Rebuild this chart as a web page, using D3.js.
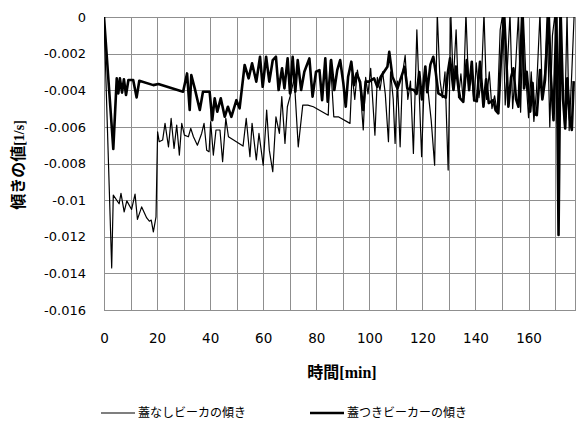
<!DOCTYPE html>
<html>
<head>
<meta charset="utf-8">
<script src="https://d3js.org/d3.v7.min.js"></script>
<style>
  body { margin: 0; background: #fff; }
  svg { display: block; }
</style>
</head>
<body>
<div id="chart"></div>
<script>

// 蓋なしビーカ (thin line): time [min] and slope [1/s]
var openTime = [0, 2.9, 3.5, 5.7, 6.4, 7.6, 8.6, 10.4, 11.7, 12.6, 14.2, 16.1, 17.1, 17.8, 18.6, 19.6,
    20.2, 20.8, 22.1, 23, 24.3, 25.3, 26.4, 27.4, 28.4, 29.3, 30.3, 31.8, 32.7, 33.7, 35.2, 36.8, 37.7,
    38.7, 39.6, 40.2, 41.2, 42.2, 43.7, 44.7, 45.9, 46.9, 52.4, 53.6, 55, 55.8, 57.4, 58.4, 60, 61.3,
    62.3, 63.6, 64.8, 66.1, 67, 68.2, 69.1, 70.1, 71.7, 73.2, 74.9, 76.8, 78.9, 84.5, 85.3, 86.6,
    88.3, 92.7, 93.5, 94.5, 95.5, 96.5, 97.7, 98.6, 99.5, 100.5, 102.1, 103, 104, 105, 106, 107.2,
    108, 109, 109.7, 110.6, 111.6, 112.5, 113.5, 114.5, 115.5, 116.6, 117.9, 118.8, 119.7, 120.8,
    121.8, 123.3, 124.6, 125.6, 126.6, 127.5, 128.5, 129.7, 130.7, 131.6, 132.7, 133.6, 134.5,
    135.4, 136.4, 137.4, 138.4, 139.4, 140.3, 141.3, 142.3, 143.2, 144.2, 145.2, 146.2, 147.2,
    148.2, 149.3, 150.3, 151.2, 152, 153, 154, 155, 156.2, 157, 158, 159, 160, 161, 162, 163,
    164.3, 165.2, 166.2, 167, 168, 169, 170, 170.8, 171.8, 172.8, 173.6, 174.5, 175.3, 176.3, 177.2];
var openValue = [0, -0.0137, -0.00973, -0.0102, -0.00963, -0.01064, -0.01004, -0.01051, -0.00967,
    -0.01105, -0.01037, -0.01097, -0.01115, -0.01109, -0.01173, -0.01091,
    -0.00627, -0.00681, -0.00672, -0.00581, -0.00709, -0.00554, -0.00718, -0.0059, -0.00754, -0.00581,
    -0.00645, -0.00654, -0.00608, -0.00654, -0.007, -0.00636, -0.00581, -0.00727, -0.00736, -0.00572,
    -0.00754, -0.00617, -0.00617, -0.0079, -0.00554, -0.00654, -0.00705, -0.00554, -0.00763, -0.00581,
    -0.00781, -0.00636, -0.00809, -0.00508, -0.00727, -0.00845, -0.00545, -0.00636, -0.00435, -0.0069,
    -0.0049, -0.00435, -0.00335, -0.00709, -0.00481, -0.00481, -0.0049, -0.00536, -0.00235, -0.00545,
    -0.00545, -0.00581, -0.0031, -0.0045, -0.0029, -0.0038, -0.00617, -0.0033, -0.0042, -0.0028,
    -0.00645, -0.0033, -0.004, -0.003, -0.0042, -0.00681, -0.003, -0.0045, -0.0069, -0.0035, -0.00709,
    -0.0031, -0.0021, -0.0045, -0.0035, -0.00745, -0.0007, -0.0042, -0.00763, -0.003, -0.0036,
    -0.00563, -0.00809, 0.0002, -0.0034, -0.0044, -0.003, -0.00836, 0.0002, -0.0036, -0.0007, -0.0044,
    -0.0031, -0.0046, 0.0002, -0.0038, -0.0029, -0.0046, -0.0025, -0.0044, -0.0032, 0.0002, -0.0045,
    -0.003, -0.005, -0.0043, -0.0052, -0.0007, 0.0002, -0.0048, -0.0028, 0.0002, -0.005, -0.003,
    0.0002, -0.0052, 0.0002, -0.0033, -0.0055, -0.003, -0.0057, -0.004, 0.0002, -0.0045, -0.0028,
    0.0002, -0.006, -0.001, 0.0002, -0.0058, 0.0002, -0.0035, -0.006, 0.0002, -0.0062, -0.003, 0.0002];

// 蓋つきビーカー (thick line)
var lidTime = [0, 3.5, 4.8, 5.4, 6.0, 6.8, 7.5, 8.3, 9.2, 11, 12.3, 13.3, 18.6, 20.5, 29.8, 31.3,
    32.3, 32.9, 34.2, 36.1, 37.3, 39.8, 40.8, 41.7, 42.7, 44, 45.5, 46.7, 48, 49.9, 51.1, 53, 54.5,
    55.8, 57.4, 58.8, 59.8, 61.1, 62.3, 63.6, 64.8, 65.8, 67.1, 68, 69.2, 70.1, 71.1, 72.1, 73, 74.3,
    75.5, 77.4, 78.6, 79.9, 81.2, 82.2, 83.4, 84.3, 85.6, 86.8, 87.9, 89, 90.2, 91.1, 92, 93.2, 94.2,
    95.2, 96.5, 97.7, 98.6, 99.9, 101.8, 103, 104.3, 106.8, 107.5, 108.7, 110.6, 113.3, 114.3, 116.8,
    117.8, 118.8, 119.8, 121.1, 121.8, 123, 124.1, 125, 126, 127.5, 128.8, 129.5, 130.4, 131.7, 132.6,
    133.5, 134.2, 135.4, 136.7, 137.6, 138.6, 139.5, 140.5, 141.7, 143, 144, 145, 146.7, 147.6, 148.6,
    149.5, 150.8, 151.8, 152.4, 153.4, 154.3, 155.3, 156.2, 157.6, 158.3, 159.3, 160.6, 161.5, 162.2,
    163.1, 164.3, 165.2, 166.2, 167.6, 168.3, 169.4, 170.5, 171.3, 172.1, 173, 173.8, 174.6, 175.5,
    176.3, 177];
var lidValue = [0, -0.0072, -0.00335, -0.00417, -0.00335, -0.00413, -0.0034, -0.00426, -0.00344,
    -0.00344, -0.00439, -0.00348, -0.00372, -0.00366, -0.00408, -0.00308, -0.00508, -0.00317, -0.0039,
    -0.00508, -0.00408, -0.00408, -0.00563, -0.00444, -0.00517, -0.00444, -0.00545, -0.0049, -0.00545,
    -0.00454, -0.00499, -0.00262, -0.00335, -0.00253, -0.00353, -0.00217, -0.00381, -0.00217, -0.00353,
    -0.00235, -0.00217, -0.00399, -0.0028, -0.0039, -0.00226, -0.00417, -0.00217, -0.00408, -0.00235,
    -0.00399, -0.00299, -0.00226, -0.00435, -0.00299, -0.0029, -0.00454, -0.00226, -0.00463, -0.00235,
    -0.00399, -0.0029, -0.00235, -0.00362, -0.0049, -0.00326, -0.00244, -0.00372, -0.00308, -0.00353,
    -0.00508, -0.00353, -0.00353, -0.00335, -0.00381, -0.00326, -0.00272, -0.0019, -0.00326, -0.0039,
    -0.00272, -0.0039, -0.00399, -0.0042, -0.003, -0.0045, -0.0027, -0.0041, -0.0026, -0.00217, -0.003,
    -0.00417, -0.0043, -0.0044, -0.0031, -0.00226, -0.00399, -0.0027, -0.0038, -0.00444, -0.00463,
    -0.00235, -0.004, -0.00244, -0.00454, -0.0046, -0.00244, -0.0049, -0.0034, -0.0047, -0.00454,
    -0.0051, -0.00526, -0.00262, 0.0002, -0.0029, -0.0049, -0.0033, -0.0028, -0.0045, -0.0049, 0.0002,
    -0.0039, -0.00299, -0.00517, -0.0036, -0.0053, -0.00536, -0.0029, -0.0045, -0.00344, 0.0002,
    -0.003, -0.00563, 0.0002, -0.0119, 0.0002, -0.0045, -0.00608, -0.00335, -0.0055, -0.00617, -0.0035];

// axis ticks
var xTicks = [0, 20, 40, 60, 80, 100, 120, 140, 160];
var yTicks = [0, -0.002, -0.004, -0.006, -0.008, -0.01, -0.012, -0.014, -0.016];

var seriesNames = ["蓋なしビーカの傾き", "蓋つきビーカーの傾き"];

// dimensions
var width = 576, height = 430;
var plot = { left: 104, right: 575, top: 17, bottom: 310 };

var svg = d3.select("#chart")
    .append("svg")
    .attr("width", width)
    .attr("height", height);

var x = d3.scaleLinear()
    .domain([0, 177.5])
    .range([plot.left, plot.right]);

var y = d3.scaleLinear()
    .domain([-0.016, 0])
    .range([plot.bottom, plot.top]);

// grid lines
var grid = svg.append("g");
grid.selectAll(".vgrid")
    .data(d3.range(0, 178, 10).concat([177.5]))
    .enter()
    .append("line")
    .attr("x1", function (d) { return Math.round(x(d)) + 0.5 })
    .attr("x2", function (d) { return Math.round(x(d)) + 0.5 })
    .attr("y1", plot.top)
    .attr("y2", plot.bottom)
    .attr("stroke", "#8f8f8f")
    .attr("stroke-width", 1);
grid.selectAll(".hgrid")
    .data(yTicks)
    .enter()
    .append("line")
    .attr("x1", plot.left)
    .attr("x2", plot.right + 1)
    .attr("y1", function (d) { return Math.round(y(d)) + 0.5 })
    .attr("y2", function (d) { return Math.round(y(d)) + 0.5 })
    .attr("stroke", "#8f8f8f")
    .attr("stroke-width", 1);

// Y axis labels
var yAxis = svg.append("g")
    .attr("transform", "translate(" + (plot.left - 18) + ",0)")
    .call(d3.axisLeft(y).tickValues(yTicks).tickSize(0).tickPadding(0)
        .tickFormat(function (d) { return String(d) }));
yAxis.select(".domain").remove();
yAxis.selectAll("text")
    .attr("font-family", "DejaVu Sans, sans-serif")
    .attr("font-size", "13px")
    .attr("fill", "#000");

// X axis labels
var xAxis = svg.append("g")
    .attr("transform", "translate(0," + (plot.bottom + 23) + ")")
    .call(d3.axisBottom(x).tickValues(xTicks).tickSize(0).tickPadding(0));
xAxis.select(".domain").remove();
xAxis.selectAll("text")
    .attr("font-family", "DejaVu Sans, sans-serif")
    .attr("font-size", "13.5px")
    .attr("fill", "#000");

// axis titles
var xTitle = svg.append("text")
    .attr("x", 342)
    .attr("y", 378)
    .attr("text-anchor", "middle")
    .attr("font-weight", "bold")
    .attr("font-size", "16px");
xTitle.append("tspan").attr("font-family", "Noto Sans CJK JP").text("時間");
xTitle.append("tspan").attr("font-family", "Liberation Serif").text("[min]");

var yTitle = svg.append("text")
    .attr("transform", "translate(24,165) rotate(-90)")
    .attr("text-anchor", "middle")
    .attr("font-weight", "bold")
    .attr("font-size", "16px");
yTitle.append("tspan").attr("font-family", "Noto Sans CJK JP").text("傾きの値");
yTitle.append("tspan").attr("font-family", "Liberation Serif").attr("font-size", "14px").text("[1/s]");

// clip to the plot area
svg.append("clipPath")
    .attr("id", "plotClip")
    .append("rect")
    .attr("x", plot.left)
    .attr("y", plot.top)
    .attr("width", plot.right - plot.left + 1)
    .attr("height", plot.bottom - plot.top);

var line = d3.line()
    .x(function (d) { return x(d[0]) })
    .y(function (d) { return y(d[1]) });

var openData = openTime.map(function (t, i) { return [t, openValue[i]] });
var lidData = lidTime.map(function (t, i) { return [t, lidValue[i]] });

svg.append("path")
    .datum(openData)
    .attr("clip-path", "url(#plotClip)")
    .attr("d", line)
    .attr("fill", "none")
    .attr("stroke", "#000")
    .attr("stroke-width", 1.2)
    .attr("stroke-linejoin", "round");

svg.append("path")
    .datum(lidData)
    .attr("clip-path", "url(#plotClip)")
    .attr("d", line)
    .attr("fill", "none")
    .attr("stroke", "#000")
    .attr("stroke-width", 2.6)
    .attr("stroke-linejoin", "round");

// legend
var legend = svg.append("g");
var legendItems = [
    { name: seriesNames[0], x: 101, w: 1.2 },
    { name: seriesNames[1], x: 310, w: 2.6 }
];
legendItems.forEach(function (d) {
    legend.append("line")
        .attr("x1", d.x).attr("x2", d.x + 34)
        .attr("y1", 413).attr("y2", 413)
        .attr("stroke", "#000")
        .attr("stroke-width", d.w);
    legend.append("text")
        .attr("x", d.x + 37)
        .attr("y", 413)
        .attr("dy", "0.35em")
        .attr("font-family", "Noto Sans CJK JP")
        .attr("font-size", "12px")
        .text(d.name);
});

</script>
</body>
</html>
